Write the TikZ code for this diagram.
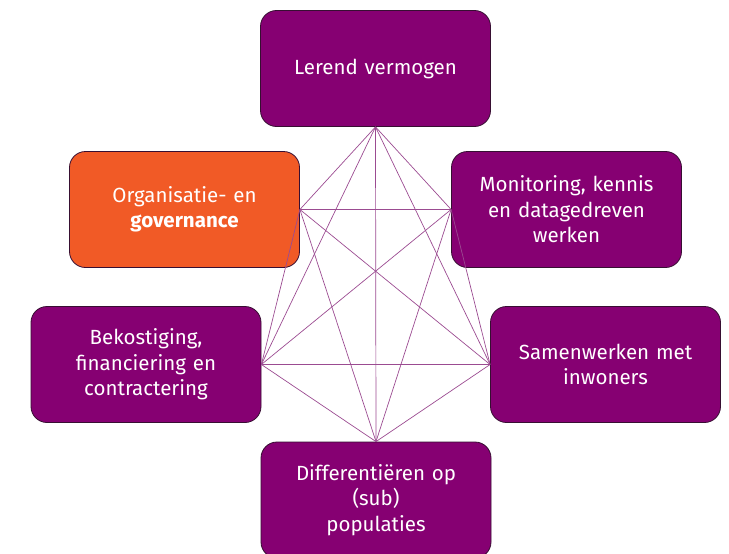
\documentclass[tikz,border=0pt]{standalone}
\usepackage{fontspec}
\setmainfont{Fira Sans}
\usetikzlibrary{positioning}
\definecolor{paars}{RGB}{134,0,114}
\definecolor{oranje}{RGB}{241,90,38}
\definecolor{rand}{RGB}{55,15,50}
\definecolor{lijn}{RGB}{155,75,145}
\tikzset{
  blok/.style={draw=rand, line width=0.8pt, fill=paars, text=white, minimum width=230pt, minimum height=116pt, text width=215pt, align=center, rounded corners=16pt, font=\fontsize{20.5}{25.5}\selectfont},
  accent/.style={blok, fill=oranje},
  verbinding/.style={draw=lijn, line width=0.7pt}
}

\begin{document}
\begin{tikzpicture}[x=1pt,y=-1pt]
        \useasboundingbox (0,0) rectangle (729,554);
        \node[blok] (lerend) at (375.5,68.5) {Lerend vermogen};
        \node[accent] (organisatie) at (184.5,209.5) {Organisatie- en\\ \textbf{governance}};
        \node[blok] (monitoring) at (566.5,209.5) {Monitoring, kennis\\ en datagedreven\\ werken};
        \node[blok] (bekostiging) at (146,364.5) {Bekostiging,\\ financiering en\\ contractering};
        \node[blok] (samenwerken) at (605.5,364.5) {Samenwerken met\\ inwoners};
        \node[blok] (populaties) at (376,500) {Differentiëren op\\ (sub)\\ populaties};

        \foreach \a/\b in {lerend.south/organisatie.east, lerend.south/monitoring.west, lerend.south/bekostiging.east, lerend.south/samenwerken.west, lerend.south/populaties.north,
                           organisatie.east/monitoring.west, organisatie.east/bekostiging.east, organisatie.east/samenwerken.west, organisatie.east/populaties.north,
                           monitoring.west/bekostiging.east, monitoring.west/samenwerken.west, monitoring.west/populaties.north,
                           bekostiging.east/samenwerken.west, bekostiging.east/populaties.north,
                           samenwerken.west/populaties.north}
            \draw[verbinding] (\a) -- (\b);
    \end{tikzpicture}
\end{document}
